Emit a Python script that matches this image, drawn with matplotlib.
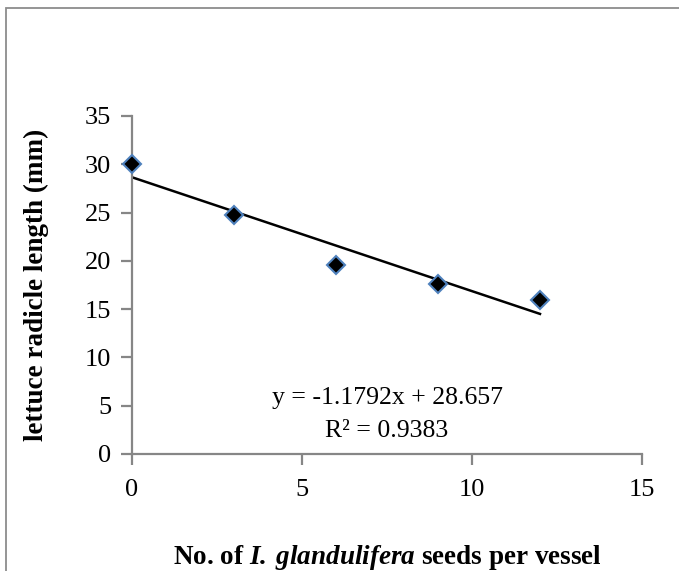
import numpy as np
import matplotlib.pyplot as plt
from matplotlib.patches import Rectangle

plt.rcParams['font.family'] = ['Liberation Serif', 'DejaVu Serif']
plt.rcParams['mathtext.fontset'] = 'custom'
plt.rcParams['mathtext.rm'] = 'Liberation Serif'
plt.rcParams['mathtext.it'] = 'Liberation Serif:italic'
plt.rcParams['mathtext.bf'] = 'Liberation Serif:bold'
plt.rcParams['mathtext.bfit'] = 'Liberation Serif:italic:bold'

# seeds per vessel vs. radicle length
seeds = [0, 3, 6, 9, 12]
radicle = [30.0, 24.7, 19.6, 17.6, 15.9]

# trendline from the fitted equation
slope = -1.1792
intercept = 28.657
r2 = 0.9383

xticks = [0, 5, 10, 15]
yticks = [0, 5, 10, 15, 20, 25, 30, 35]

W, H = 679, 571
fig = plt.figure(figsize=(W/100, H/100), dpi=100)
ax = fig.add_axes([132/W, 1 - 454/H, 510/W, 338/H])

# outer chart frame
fig.patches.append(Rectangle((6/W, -0.05), 1.1, 1 - 8/H + 0.05, transform=fig.transFigure,
                             fill=False, edgecolor='#8c8c8c', lw=1.3))

tx = np.array([seeds[0], seeds[-1]])
ax.plot(tx, slope*tx + intercept, color='black', lw=1.8, zorder=2)
ax.plot(seeds, radicle, linestyle='none', marker='D', ms=9.5, mfc='black',
        mec='#4F81BD', mew=1.5, zorder=3, clip_on=False)

ax.set_xlim(0, 15)
ax.set_ylim(0, 35)
ax.set_xticks(xticks)
ax.set_yticks(yticks)
for s in ['top', 'right']:
    ax.spines[s].set_visible(False)
for s in ['left', 'bottom']:
    ax.spines[s].set_color('#868686')
    ax.spines[s].set_linewidth(1.6)
ax.tick_params(length=8, width=1.6, color='#868686', labelsize=19, pad=7)
ax.tick_params(axis='x', pad=10)

ax.set_xlabel('No. of $\\mathbfit{I.\\;glandulifera}$ seeds per vessel', fontsize=19.5,
              fontweight='bold')
ax.xaxis.set_label_coords(0.5, -(543 - 454)/338)
ax.set_ylabel('lettuce radicle length (mm)', fontsize=19.5, fontweight='bold')
ax.yaxis.set_label_coords(-(132 - 49)/510, 0.5)

ax.text(7.5, 5.8, 'y = %.4fx + %.3f' % (slope, intercept), fontsize=18.5,
        ha='center', va='center')
ax.text(7.5, 2.4, 'R² = %.4f' % r2, fontsize=18.5, ha='center', va='center')

fig.savefig('out.png', dpi=100)
